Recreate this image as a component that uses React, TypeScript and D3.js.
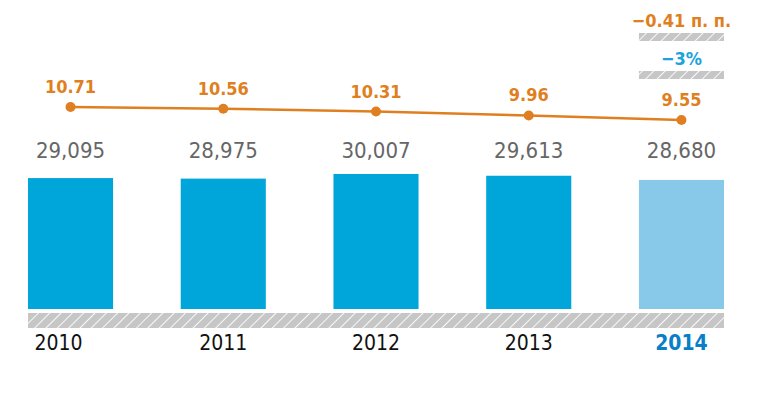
import React from "react";
import * as d3 from "d3";

const years = ["2010", "2011", "2012", "2013", "2014"];
const employees = [29095, 28975, 30007, 29613, 28680];
const rates = [10.71, 10.56, 10.31, 9.96, 9.55];
const rateChange = "−0.41 п. п.";
const employeeChange = "−3%";

const fmt = d3.format(",");

export default function App() {
  const width = 760;
  const height = 396;
  const font = "'DejaVu Sans Condensed', 'DejaVu Sans', sans-serif";

  // Категории
  const x = d3.scaleBand<string>()
    .domain(years)
    .range([28, 724])
    .paddingInner(0.443)
    .paddingOuter(0);

  // Шкала численности (столбцы) и доли (линия)
  const yBar = d3.scaleLinear().domain([0, 40000]).range([309, 129]);
  const yRate = d3.scaleLinear().domain([9, 11]).range([126.2, 103.8]);

  const cx = (d: string) => (x(d) ?? 0) + x.bandwidth() / 2;
  const last = years[years.length - 1];
  const [x0, x1] = x.range();

  const line = d3.line<number>()
    .x((_, i) => cx(years[i]))
    .y(d => yRate(d));

  return (
    <svg width={width} height={height} style={{ position: "absolute", left: 0, top: 0 }}>
      <defs>
        <pattern id="hatch" width={8} height={8} patternUnits="userSpaceOnUse" patternTransform="rotate(45)">
          <rect width={8} height={8} fill="#c6c6c6" />
          <line x1={0} y1={0} x2={0} y2={8} stroke="#ffffff" strokeWidth={1.8} />
        </pattern>
      </defs>
      <rect width={width} height={height} fill="#ffffff" />

      {/* Столбцы */}
      {years.map((yr, i) => (
        <rect
          key={yr}
          x={x(yr)}
          y={yBar(employees[i])}
          width={x.bandwidth()}
          height={yBar(0) - yBar(employees[i])}
          fill={yr === last ? "#88c8e8" : "#00a5d9"}
        />
      ))}
      {/* Подписи значений */}
      {years.map((yr, i) => (
        <text
          key={yr}
          x={cx(yr)}
          y={158}
          textAnchor="middle"
          fill="#666666"
          style={{ fontFamily: font, fontSize: 22 }}
        >
          {fmt(employees[i])}
        </text>
      ))}

      {/* Ось со штриховкой */}
      <rect x={x0} y={313} width={x1 - x0} height={15} fill="url(#hatch)" />
      {years.map(yr => (
        <text
          key={yr}
          x={cx(yr) - (yr === years[0] ? 12 : 0)}
          y={350}
          textAnchor="middle"
          fill={yr === last ? "#0a7fc8" : "#111111"}
          style={{ fontFamily: font, fontSize: 21, fontWeight: yr === last ? 700 : 400 }}
        >
          {yr}
        </text>
      ))}

      {/* Линия */}
      <path d={line(rates) ?? ""} fill="none" stroke="#e07f21" strokeWidth={2.5} />
      {rates.map((r, i) => (
        <g key={years[i]}>
          <circle cx={cx(years[i])} cy={yRate(r)} r={5} fill="#e07f21" />
          <text
            x={cx(years[i])}
            y={yRate(r) - 14}
            textAnchor="middle"
            fill="#e07f21"
            style={{ fontFamily: font, fontSize: 18, fontWeight: 700 }}
          >
            {r.toFixed(2)}
          </text>
        </g>
      ))}

      {/* Изменения */}
      <text x={cx(last)} y={27} textAnchor="middle" fill="#e07f21"
        style={{ fontFamily: font, fontSize: 18, fontWeight: 700 }}>
        {rateChange}
      </text>
      <rect x={x(last)} y={33} width={x.bandwidth()} height={8} fill="url(#hatch)" />
      <text x={cx(last)} y={65} textAnchor="middle" fill="#1aa3dc"
        style={{ fontFamily: font, fontSize: 18, fontWeight: 700 }}>
        {employeeChange}
      </text>
      <rect x={x(last)} y={71} width={x.bandwidth()} height={8} fill="url(#hatch)" />
    </svg>
  );
}
